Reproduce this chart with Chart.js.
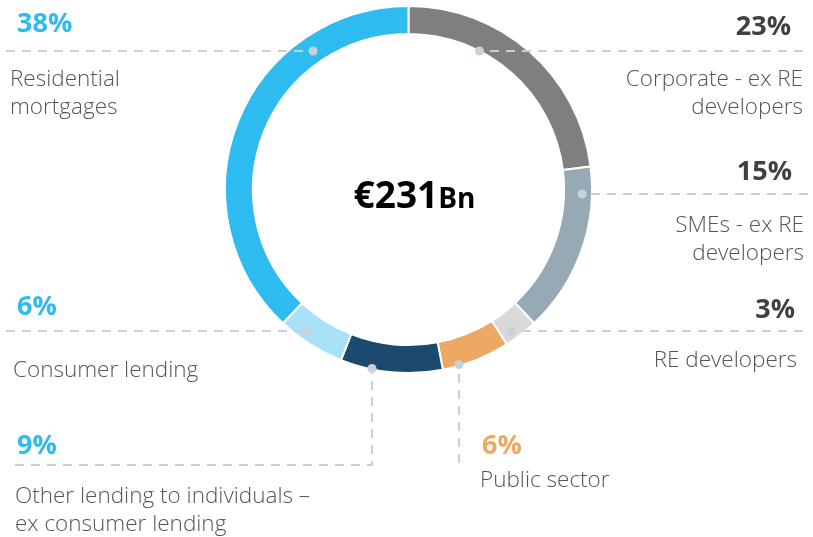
<!DOCTYPE html>
<html>
<head>
<meta charset="utf-8">
<script src="https://cdn.jsdelivr.net/npm/chart.js@4.4.1/dist/chart.umd.min.js"></script>
<style>
  html, body { margin: 0; padding: 0; background: #fff; }
  #wrap { position: relative; width: 813px; height: 537px; }
</style>
</head>
<body>
<div id="wrap"><canvas id="loans"></canvas></div>
<script>
// loan book split, clockwise from 12 o'clock
const categories = ['Corporate - ex RE developers', 'SMEs - ex RE developers', 'RE developers', 'Public sector',
  'Other lending to individuals – ex consumer lending', 'Consumer lending', 'Residential mortgages']
const shares = [23, 15, 3, 6, 9, 6, 38]
const colours = ['#7f7f7f', '#97a9b4', '#d9d9d9', '#eda864', '#1b4a6e', '#a8e1f8', '#2ebbef']
const totalValue = '€231'
const totalUnit = 'Bn'

// where each label sits and how its leader runs (layout only)
const callouts = [
  { lines: ['Corporate - ex RE', 'developers'], align: 'right', x: 803, pctX: 791, pctY: 35, textY: 86, pctColour: '#404040',
    leader: { dir: 'h', y: 51, frac: 0, to: 803 } },
  { lines: ['SMEs - ex RE', 'developers'], align: 'right', x: 804, pctX: 792, pctY: 180, textY: 232, pctColour: '#404040',
    leader: { dir: 'h', y: 194, frac: 0.65, to: 808 } },
  { lines: ['RE developers'], align: 'right', x: 797, pctX: 795, pctY: 318, textY: 367, pctColour: '#404040',
    leader: { dir: 'h', y: 331, frac: 0.7, to: 803 } },
  { lines: ['Public sector'], align: 'left', x: 480, pctX: 482, pctY: 454, textY: 487, pctColour: '#eda864',
    leader: { dir: 'v', x: 459, frac: 0.95, toY: 463 } },
  { lines: ['Other lending to individuals –', 'ex consumer lending'], align: 'left', x: 15, pctX: 17, pctY: 454, textY: 503, pctColour: '#2ebbef',
    leader: { dir: 'v', x: 372, frac: 0.97, toY: 465, thenX: 15 } },
  { lines: ['Consumer lending'], align: 'left', x: 13, pctX: 17, pctY: 315, textY: 377, pctColour: '#2ebbef',
    leader: { dir: 'h', y: 331, frac: 0.68, to: 6 } },
  { lines: ['Residential', 'mortgages'], align: 'left', x: 10, pctX: 17, pctY: 32, textY: 86, pctColour: '#2ebbef',
    leader: { dir: 'h', y: 51, frac: 0.45, to: 6 } }
]

const LABEL_FONT = '300 22.5px "Open Sans", sans-serif'
const PCT_FONT = 'bold 27px "Open Sans", sans-serif'
const LINE_H = 28

const callout = {
  id: 'callout',
  afterDatasetsDraw(chart) {
    const ctx = chart.ctx
    const arcs = chart.getDatasetMeta(0).data
    ctx.save()
    arcs.forEach((arc, i) => {
      const c = callouts[i]
      const L = c.leader
      const r = arc.innerRadius + (arc.outerRadius - arc.innerRadius) * L.frac
      const mid = (arc.startAngle + arc.endAngle) / 2
      let dx, dy
      if (L.dir === 'h') {
        dy = L.y - arc.y
        dx = Math.sqrt(Math.max(r * r - dy * dy, 0)) * (Math.cos(mid) >= 0 ? 1 : -1)
      } else {
        dx = L.x - arc.x
        dy = Math.sqrt(Math.max(r * r - dx * dx, 0))
      }
      const px = arc.x + dx, py = arc.y + dy

      ctx.strokeStyle = '#c8d0d7'
      ctx.lineWidth = 2
      ctx.setLineDash([9, 7])
      ctx.beginPath()
      if (L.dir === 'h') {
        ctx.moveTo(L.to, py)
        ctx.lineTo(px, py)
      } else {
        if (L.thenX !== undefined) {
          ctx.moveTo(L.thenX, L.toY)
          ctx.lineTo(px, L.toY)
        } else {
          ctx.moveTo(px, L.toY)
        }
        ctx.lineTo(px, py)
      }
      ctx.stroke()
      ctx.setLineDash([])

      ctx.fillStyle = '#c9d1d8'
      ctx.beginPath()
      ctx.arc(px, py, 4.5, 0, Math.PI * 2)
      ctx.fill()

      ctx.textAlign = c.align
      ctx.textBaseline = 'alphabetic'
      ctx.font = PCT_FONT
      ctx.fillStyle = c.pctColour
      ctx.fillText(shares[i] + '%', c.pctX, c.pctY)
      ctx.font = LABEL_FONT
      ctx.fillStyle = '#555555'
      c.lines.forEach((t, k) => ctx.fillText(t, c.x, c.textY + k * LINE_H))
    })

    // total in the hole
    const a = arcs[0]
    ctx.fillStyle = '#000'
    ctx.font = 'bold 37px "Open Sans", sans-serif'
    const w1 = ctx.measureText(totalValue).width
    ctx.font = 'bold 28px "Open Sans", sans-serif'
    const w2 = ctx.measureText(totalUnit).width
    const x0 = a.x + 6 - (w1 + w2) / 2
    ctx.textAlign = 'left'
    ctx.font = 'bold 37px "Open Sans", sans-serif'
    ctx.fillText(totalValue, x0, 208)
    ctx.font = 'bold 28px "Open Sans", sans-serif'
    ctx.fillText(totalUnit, x0 + w1, 208)
    ctx.restore()
  }
}

new Chart(document.getElementById('loans'), {
  type: 'doughnut',
  data: {
    labels: categories,
    datasets: [{
      data: shares,
      backgroundColor: colours,
      borderColor: '#ffffff',
      borderWidth: 2,
      hoverOffset: 0
    }]
  },
  options: {
    responsive: true,
    maintainAspectRatio: false,
    animation: false,
    cutout: '84.8%',
    layout: { padding: { left: 224, right: 220, top: 5, bottom: 163 } },
    plugins: {
      legend: { display: false },
      tooltip: { enabled: false }
    }
  },
  plugins: [callout]
})
</script>
</body>
</html>
